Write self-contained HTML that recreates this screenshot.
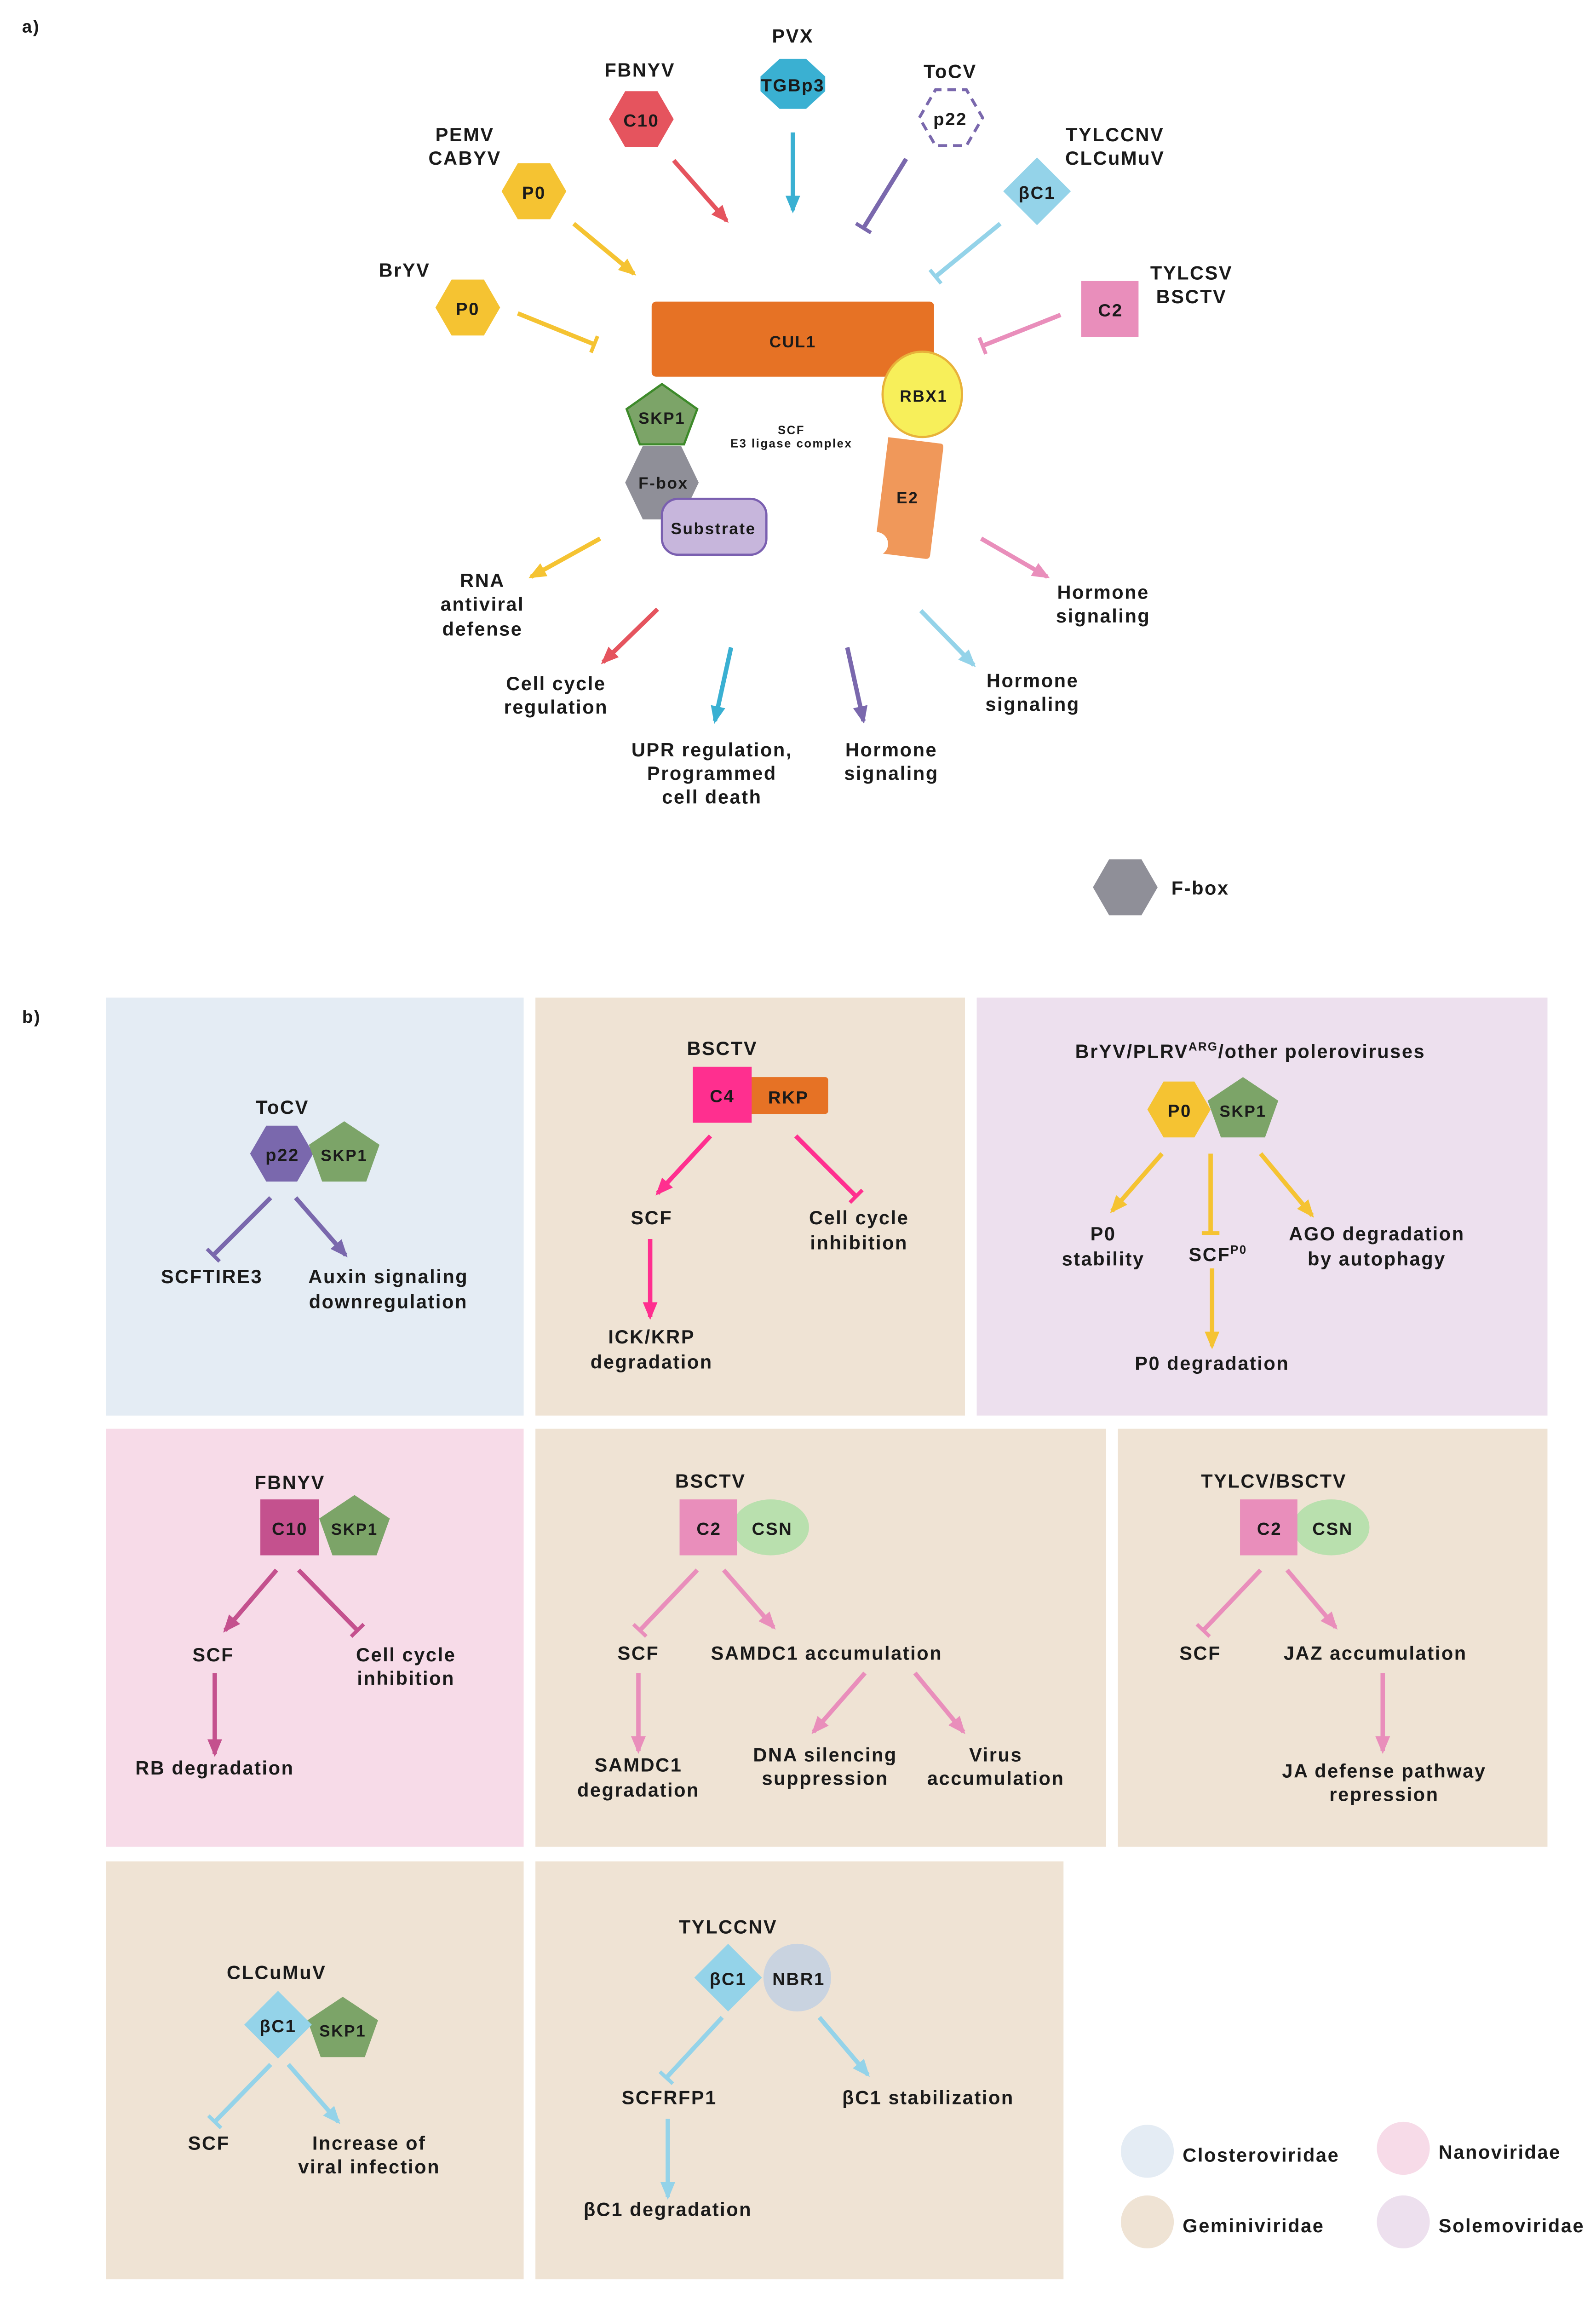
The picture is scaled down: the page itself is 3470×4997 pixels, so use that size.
<!DOCTYPE html>
<html><head><meta charset="utf-8"><style>
html,body{margin:0;padding:0;background:#fff}
svg{display:block}
text{font-family:"Liberation Sans",sans-serif;font-weight:bold;fill:#1a1a1a;letter-spacing:0.8px}
</style></head><body>
<svg width="3470" height="4997" viewBox="0 0 1085 1562.4" preserveAspectRatio="none" xmlns="http://www.w3.org/2000/svg">
<defs>
<marker id="aY" markerUnits="userSpaceOnUse" markerWidth="12" markerHeight="12" refX="10" refY="6" orient="auto"><path d="M0,1 L12,6 L0,11 z" fill="#f5c332"/></marker>
<marker id="aR" markerUnits="userSpaceOnUse" markerWidth="12" markerHeight="12" refX="10" refY="6" orient="auto"><path d="M0,1 L12,6 L0,11 z" fill="#e5545e"/></marker>
<marker id="aB" markerUnits="userSpaceOnUse" markerWidth="12" markerHeight="12" refX="10" refY="6" orient="auto"><path d="M0,1 L12,6 L0,11 z" fill="#3ab0d2"/></marker>
<marker id="aP" markerUnits="userSpaceOnUse" markerWidth="12" markerHeight="12" refX="10" refY="6" orient="auto"><path d="M0,1 L12,6 L0,11 z" fill="#7a68ad"/></marker>
<marker id="aL" markerUnits="userSpaceOnUse" markerWidth="12" markerHeight="12" refX="10" refY="6" orient="auto"><path d="M0,1 L12,6 L0,11 z" fill="#94d3e9"/></marker>
<marker id="aK" markerUnits="userSpaceOnUse" markerWidth="12" markerHeight="12" refX="10" refY="6" orient="auto"><path d="M0,1 L12,6 L0,11 z" fill="#e98ebb"/></marker>
<marker id="aM" markerUnits="userSpaceOnUse" markerWidth="12" markerHeight="12" refX="10" refY="6" orient="auto"><path d="M0,1 L12,6 L0,11 z" fill="#ff2f8f"/></marker>
<marker id="aD" markerUnits="userSpaceOnUse" markerWidth="12" markerHeight="12" refX="10" refY="6" orient="auto"><path d="M0,1 L12,6 L0,11 z" fill="#c4518e"/></marker>
<marker id="tY" markerUnits="userSpaceOnUse" markerWidth="12" markerHeight="14" refX="10" refY="7" orient="auto"><path d="M10,1 L10,13" stroke="#f5c332" stroke-width="2.5"/></marker>
<marker id="tP" markerUnits="userSpaceOnUse" markerWidth="12" markerHeight="14" refX="10" refY="7" orient="auto"><path d="M10,1 L10,13" stroke="#7a68ad" stroke-width="2.5"/></marker>
<marker id="tL" markerUnits="userSpaceOnUse" markerWidth="12" markerHeight="14" refX="10" refY="7" orient="auto"><path d="M10,1 L10,13" stroke="#94d3e9" stroke-width="2.5"/></marker>
<marker id="tK" markerUnits="userSpaceOnUse" markerWidth="12" markerHeight="14" refX="10" refY="7" orient="auto"><path d="M10,1 L10,13" stroke="#e98ebb" stroke-width="2.5"/></marker>
<marker id="tM" markerUnits="userSpaceOnUse" markerWidth="12" markerHeight="14" refX="10" refY="7" orient="auto"><path d="M10,1 L10,13" stroke="#ff2f8f" stroke-width="2.5"/></marker>
<marker id="tD" markerUnits="userSpaceOnUse" markerWidth="12" markerHeight="14" refX="10" refY="7" orient="auto"><path d="M10,1 L10,13" stroke="#c4518e" stroke-width="2.5"/></marker>
</defs>

<g font-size="13">
<text x="15" y="22" font-size="12">a)</text>
<text x="15" y="695" font-size="12">b)</text>
</g>

<!-- Part a -->
<g font-size="13" text-anchor="middle">
<text x="539" y="29">PVX</text>
<polygon points="530,40 548,40 561,52 561,62 548,74 530,74 517,62 517,52" fill="#3ab0d2"/>
<text x="539" y="62" font-size="12">TGBp3</text>
<line x1="539" y1="90" x2="539" y2="143" stroke="#3ab0d2" stroke-width="3" marker-end="url(#aB)"/>

<text x="435" y="52">FBNYV</text>
<polygon points="414,81 425,62 447,62 458,81 447,100 425,100" fill="#e5545e"/>
<text x="436" y="86" font-size="12">C10</text>
<line x1="458" y1="109" x2="494" y2="150" stroke="#e5545e" stroke-width="3" marker-end="url(#aR)"/>

<text x="646" y="53">ToCV</text>
<polygon points="625,80 636,61 657,61 668,80 657,99 636,99" fill="#fff" stroke="#7a68ad" stroke-width="2" stroke-dasharray="6,4"/>
<text x="646" y="85" font-size="12">p22</text>
<line x1="616" y1="108" x2="587" y2="155" stroke="#7a68ad" stroke-width="3" marker-end="url(#tP)"/>

<text x="316" y="96">PEMV</text><text x="316" y="112">CABYV</text>
<polygon points="341,130 352,111 374,111 385,130 374,149 352,149" fill="#f5c332"/>
<text x="363" y="135" font-size="12">P0</text>
<line x1="390" y1="152" x2="431" y2="186" stroke="#f5c332" stroke-width="3" marker-end="url(#aY)"/>

<text x="758" y="96">TYLCCNV</text><text x="758" y="112">CLCuMuV</text>
<polygon points="705,107 728,130 705,153 682,130" fill="#94d3e9"/>
<text x="705" y="135" font-size="12">βC1</text>
<line x1="680" y1="152" x2="636" y2="188" stroke="#94d3e9" stroke-width="3" marker-end="url(#tL)"/>

<text x="275" y="188">BrYV</text>
<polygon points="296,209 307,190 329,190 340,209 329,228 307,228" fill="#f5c332"/>
<text x="318" y="214" font-size="12">P0</text>
<line x1="352" y1="213" x2="404" y2="234" stroke="#f5c332" stroke-width="3" marker-end="url(#tY)"/>

<text x="810" y="190">TYLCSV</text><text x="810" y="206">BSCTV</text>
<rect x="735" y="191" width="39" height="38" fill="#e98ebb"/>
<text x="755" y="215" font-size="12">C2</text>
<line x1="721" y1="214" x2="668" y2="235" stroke="#e98ebb" stroke-width="3" marker-end="url(#tK)"/>

<rect x="443" y="205" width="192" height="51" rx="3" fill="#e67225"/>
<text x="539" y="236" font-size="11">CUL1</text>
<ellipse cx="627" cy="268" rx="27" ry="29" fill="#f7ef5a" stroke="#e8b23a" stroke-width="1.5"/>
<text x="628" y="273" font-size="11">RBX1</text>
<polygon points="450,261 474,278 465,302 435,302 426,278" fill="#7ca468" stroke="#3d8a2a" stroke-width="1.5"/>
<text x="450" y="288" font-size="11">SKP1</text>
<polygon points="425,328 437,303 463,303 475,328 463,353 437,353" fill="#8f8f98"/>
<text x="451" y="332" font-size="11">F-box</text>
<rect x="450" y="339" width="71" height="38" rx="11" fill="#c7b6dc" stroke="#7a5fb0" stroke-width="1.5"/>
<text x="485" y="363" font-size="11">Substrate</text>
<text x="538" y="295" font-size="8">SCF</text>
<text x="538" y="304" font-size="8" letter-spacing="0.3">E3 ligase complex</text>
<g transform="translate(617,338) rotate(7)">
<path d="M-18,-39 L18,-39 Q20,-39 20,-36 L20,37 Q20,40 17,40 L-12,40 A8,8 0 0 0 -18,26 Z" fill="#f0985a"/>
</g>
<text x="617" y="342" font-size="11">E2</text>

<line x1="408" y1="366" x2="361" y2="392" stroke="#f5c332" stroke-width="3" marker-end="url(#aY)"/>
<text x="328" y="399">RNA</text><text x="328" y="415">antiviral</text><text x="328" y="432">defense</text>
<line x1="447" y1="414" x2="410" y2="450" stroke="#e5545e" stroke-width="3" marker-end="url(#aR)"/>
<text x="378" y="469">Cell cycle</text><text x="378" y="485">regulation</text>
<line x1="497" y1="440" x2="486" y2="490" stroke="#3ab0d2" stroke-width="3" marker-end="url(#aB)"/>
<text x="484" y="514">UPR regulation,</text><text x="484" y="530">Programmed</text><text x="484" y="546">cell death</text>
<line x1="576" y1="440" x2="587" y2="490" stroke="#7a68ad" stroke-width="3" marker-end="url(#aP)"/>
<text x="606" y="514">Hormone</text><text x="606" y="530">signaling</text>
<line x1="626" y1="415" x2="662" y2="452" stroke="#94d3e9" stroke-width="3" marker-end="url(#aL)"/>
<text x="702" y="467">Hormone</text><text x="702" y="483">signaling</text>
<line x1="667" y1="366" x2="712" y2="392" stroke="#e98ebb" stroke-width="3" marker-end="url(#aK)"/>
<text x="750" y="407">Hormone</text><text x="750" y="423">signaling</text>

<polygon points="743,603 754,584 776,584 787,603 776,622 754,622" fill="#8f8f98"/>
<text x="816" y="608">F-box</text>
</g>

<!-- Panels -->
<rect x="72" y="678" width="284" height="284" fill="#e4ecf4"/>
<rect x="364" y="678" width="292" height="284" fill="#efe3d4"/>
<rect x="664" y="678" width="388" height="284" fill="#ede0ee"/>
<rect x="72" y="971" width="284" height="284" fill="#f7dbe8"/>
<rect x="364" y="971" width="388" height="284" fill="#efe3d4"/>
<rect x="760" y="971" width="292" height="284" fill="#efe3d4"/>
<rect x="72" y="1265" width="284" height="284" fill="#efe3d4"/>
<rect x="364" y="1265" width="359" height="284" fill="#efe3d4"/>

<g font-size="13" text-anchor="middle">
<!-- A -->
<text x="192" y="757">ToCV</text>
<polygon points="170,784 181,765 202,765 213,784 202,803 181,803" fill="#7a68ad"/>
<polygon points="234,762 258,778 249,803 219,803 210,778" fill="#7ca468"/>
<text x="192" y="789" font-size="12">p22</text>
<text x="234" y="789" font-size="11">SKP1</text>
<line x1="184" y1="814" x2="145" y2="853" stroke="#7a68ad" stroke-width="3" marker-end="url(#tP)"/>
<line x1="201" y1="814" x2="235" y2="853" stroke="#7a68ad" stroke-width="3" marker-end="url(#aP)"/>
<text x="144" y="872">SCFTIRE3</text>
<text x="264" y="872">Auxin signaling</text><text x="264" y="889">downregulation</text>

<!-- B -->
<text x="491" y="717">BSCTV</text>
<rect x="505" y="732" width="58" height="25" rx="2" fill="#e67225"/>
<rect x="471" y="725" width="40" height="38" fill="#ff2f8f"/>
<text x="491" y="749" font-size="12">C4</text>
<text x="536" y="750" font-size="12">RKP</text>
<line x1="483" y1="772" x2="447" y2="811" stroke="#ff2f8f" stroke-width="3" marker-end="url(#aM)"/>
<line x1="541" y1="772" x2="582" y2="813" stroke="#ff2f8f" stroke-width="3" marker-end="url(#tM)"/>
<text x="443" y="832">SCF</text>
<text x="584" y="832">Cell cycle</text><text x="584" y="849">inhibition</text>
<line x1="442" y1="842" x2="442" y2="895" stroke="#ff2f8f" stroke-width="3" marker-end="url(#aM)"/>
<text x="443" y="913">ICK/KRP</text><text x="443" y="930">degradation</text>

<!-- C -->
<text x="850" y="719">BrYV/PLRV<tspan font-size="8" dy="-5">ARG</tspan><tspan dy="5">/other poleroviruses</tspan></text>
<polygon points="780,754 791,735 812,735 823,754 812,773 791,773" fill="#f5c332"/>
<polygon points="845,732 869,748 860,773 830,773 821,748" fill="#7ca468"/>
<text x="802" y="759" font-size="12">P0</text>
<text x="845" y="759" font-size="11">SKP1</text>
<line x1="790" y1="784" x2="756" y2="823" stroke="#f5c332" stroke-width="3" marker-end="url(#aY)"/>
<line x1="823" y1="784" x2="823" y2="838" stroke="#f5c332" stroke-width="3" marker-end="url(#tY)"/>
<line x1="857" y1="784" x2="892" y2="826" stroke="#f5c332" stroke-width="3" marker-end="url(#aY)"/>
<text x="750" y="843">P0</text><text x="750" y="860">stability</text>
<text x="828" y="857">SCF<tspan font-size="8" dy="-5">P0</tspan></text>
<text x="936" y="843">AGO degradation</text><text x="936" y="860">by autophagy</text>
<line x1="824" y1="862" x2="824" y2="915" stroke="#f5c332" stroke-width="3" marker-end="url(#aY)"/>
<text x="824" y="931">P0 degradation</text>

<!-- D -->
<text x="197" y="1012">FBNYV</text>
<polygon points="241,1016 265,1032 256,1057 226,1057 217,1032" fill="#7ca468"/>
<rect x="177" y="1019" width="40" height="38" fill="#c4518e"/>
<text x="197" y="1043" font-size="12">C10</text>
<text x="241" y="1043" font-size="11">SKP1</text>
<line x1="188" y1="1067" x2="153" y2="1108" stroke="#c4518e" stroke-width="3" marker-end="url(#aD)"/>
<line x1="203" y1="1067" x2="243" y2="1108" stroke="#c4518e" stroke-width="3" marker-end="url(#tD)"/>
<text x="145" y="1129">SCF</text>
<text x="276" y="1129">Cell cycle</text><text x="276" y="1145">inhibition</text>
<line x1="146" y1="1137" x2="146" y2="1192" stroke="#c4518e" stroke-width="3" marker-end="url(#aD)"/>
<text x="146" y="1206">RB degradation</text>

<!-- E -->
<text x="483" y="1011">BSCTV</text>
<ellipse cx="524" cy="1038" rx="26" ry="19" fill="#b9e0ae"/>
<rect x="462" y="1019" width="39" height="38" fill="#e98ebb"/>
<text x="482" y="1043" font-size="12">C2</text>
<text x="525" y="1043" font-size="12">CSN</text>
<line x1="474" y1="1067" x2="435" y2="1108" stroke="#e98ebb" stroke-width="3" marker-end="url(#tK)"/>
<line x1="492" y1="1067" x2="526" y2="1106" stroke="#e98ebb" stroke-width="3" marker-end="url(#aK)"/>
<text x="434" y="1128">SCF</text>
<text x="562" y="1128">SAMDC1 accumulation</text>
<line x1="434" y1="1137" x2="434" y2="1190" stroke="#e98ebb" stroke-width="3" marker-end="url(#aK)"/>
<text x="434" y="1204">SAMDC1</text><text x="434" y="1221">degradation</text>
<line x1="588" y1="1137" x2="553" y2="1177" stroke="#e98ebb" stroke-width="3" marker-end="url(#aK)"/>
<line x1="622" y1="1137" x2="655" y2="1177" stroke="#e98ebb" stroke-width="3" marker-end="url(#aK)"/>
<text x="561" y="1197">DNA silencing</text><text x="561" y="1213">suppression</text>
<text x="677" y="1197">Virus</text><text x="677" y="1213">accumulation</text>

<!-- F -->
<text x="866" y="1011">TYLCV/BSCTV</text>
<ellipse cx="905" cy="1038" rx="26" ry="19" fill="#b9e0ae"/>
<rect x="843" y="1019" width="39" height="38" fill="#e98ebb"/>
<text x="863" y="1043" font-size="12">C2</text>
<text x="906" y="1043" font-size="12">CSN</text>
<line x1="857" y1="1067" x2="818" y2="1108" stroke="#e98ebb" stroke-width="3" marker-end="url(#tK)"/>
<line x1="875" y1="1067" x2="908" y2="1106" stroke="#e98ebb" stroke-width="3" marker-end="url(#aK)"/>
<text x="816" y="1128">SCF</text>
<text x="935" y="1128">JAZ accumulation</text>
<line x1="940" y1="1137" x2="940" y2="1190" stroke="#e98ebb" stroke-width="3" marker-end="url(#aK)"/>
<text x="941" y="1208">JA defense pathway</text><text x="941" y="1224">repression</text>

<!-- G -->
<text x="188" y="1345">CLCuMuV</text>
<polygon points="233,1357 257,1373 248,1398 218,1398 209,1373" fill="#7ca468"/>
<polygon points="189,1353 212,1376 189,1399 166,1376" fill="#94d3e9"/>
<text x="189" y="1381" font-size="12">βC1</text>
<text x="233" y="1384" font-size="11">SKP1</text>
<line x1="184" y1="1403" x2="146" y2="1442" stroke="#94d3e9" stroke-width="3" marker-end="url(#tL)"/>
<line x1="196" y1="1403" x2="230" y2="1442" stroke="#94d3e9" stroke-width="3" marker-end="url(#aL)"/>
<text x="142" y="1461">SCF</text>
<text x="251" y="1461">Increase of</text><text x="251" y="1477">viral infection</text>

<!-- H -->
<text x="495" y="1314">TYLCCNV</text>
<circle cx="542" cy="1344" r="23" fill="#c9d3e0"/>
<polygon points="495,1321 518,1344 495,1367 472,1344" fill="#94d3e9"/>
<text x="495" y="1349" font-size="12">βC1</text>
<text x="543" y="1349" font-size="12">NBR1</text>
<line x1="491" y1="1371" x2="453" y2="1412" stroke="#94d3e9" stroke-width="3" marker-end="url(#tL)"/>
<line x1="557" y1="1371" x2="590" y2="1410" stroke="#94d3e9" stroke-width="3" marker-end="url(#aL)"/>
<text x="455" y="1430">SCFRFP1</text>
<text x="631" y="1430">βC1 stabilization</text>
<line x1="454" y1="1440" x2="454" y2="1493" stroke="#94d3e9" stroke-width="3" marker-end="url(#aL)"/>
<text x="454" y="1506">βC1 degradation</text>
</g>

<!-- Legend -->
<g font-size="13">
<circle cx="780" cy="1462" r="18" fill="#e4ecf4"/>
<text x="804" y="1469">Closteroviridae</text>
<circle cx="954" cy="1460" r="18" fill="#f7dbe8"/>
<text x="978" y="1467">Nanoviridae</text>
<circle cx="780" cy="1510" r="18" fill="#efe3d4"/>
<text x="804" y="1517">Geminiviridae</text>
<circle cx="954" cy="1510" r="18" fill="#ede0ee"/>
<text x="978" y="1517">Solemoviridae</text>
</g>
</svg>
</body></html>
